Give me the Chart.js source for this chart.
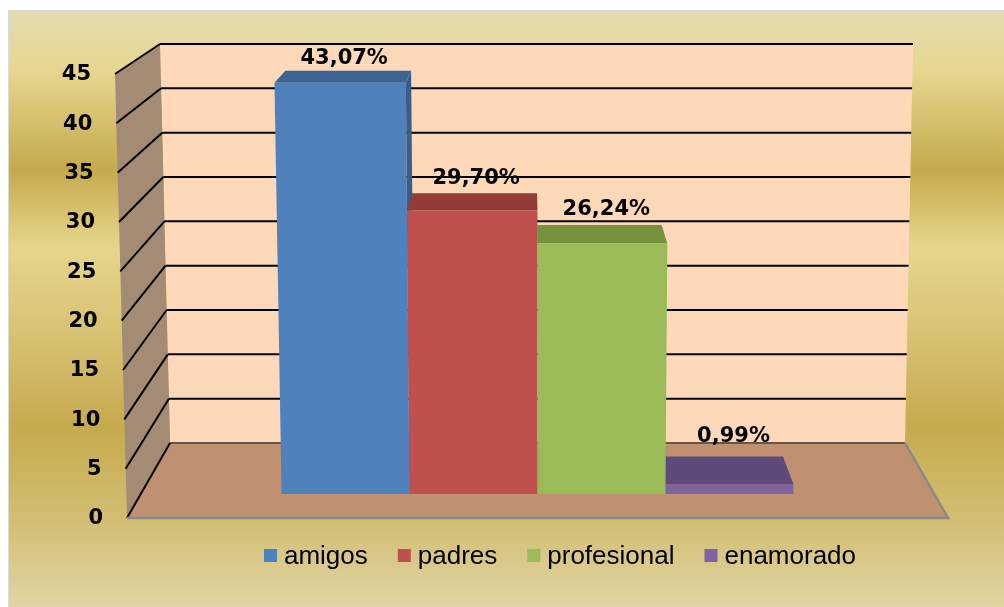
<!DOCTYPE html>
<html>
<head>
<meta charset="utf-8">
<script src="https://cdn.jsdelivr.net/npm/chart.js@4.4.1/dist/chart.umd.min.js"></script>
<style>
  html, body { margin: 0; padding: 0; background: #fff; }
  #wrap { width: 1004px; height: 607px; }
</style>
</head>
<body>
<div id="wrap"><canvas id="chart" width="1004" height="607"></canvas></div>
<script>
// Data
const seriesNames = ['amigos', 'padres', 'profesional', 'enamorado'];
const seriesValues = [43.07, 29.70, 26.24, 0.99];
const valueLabels = ['43,07%', '29,70%', '26,24%', '0,99%'];
const yTicks = [0, 5, 10, 15, 20, 25, 30, 35, 40, 45];

// Colours (front, top, side)
const frontColors = ['#4f81bd', '#c0504d', '#9bbb59', '#8064a2'];
const topColors = ['#3c6391', '#933c3a', '#77923f', '#604a7c'];
const sideColors = ['#3a5e8c', '#8e3a38', '#728c3c', '#5c4776'];

const W = 1004, H = 607;
const FRONT_D = 0.68, BACK_D = 0.30;

// simple perspective box: u = 0..1 across, t = 0..1 up (0..45), d = 0 back wall .. 1 front edge
function project(u, t, d) {
  const xlb = 170 - 10 * t, xrb = 905 + 8 * t, yb = 443 - 399 * t;
  const xlf = 127 - 12 * t, xrf = 948 + 12 * t, yf = 518 - 444 * t;
  const xl = xlb + d * (xlf - xlb);
  const xr = xrb + d * (xrf - xrb);
  return [xl + u * (xr - xl), yb + d * (yf - yb)];
}

function poly(ctx, pts, fill) {
  ctx.beginPath();
  ctx.moveTo(pts[0][0], pts[0][1]);
  for (let i = 1; i < pts.length; i++) ctx.lineTo(pts[i][0], pts[i][1]);
  ctx.closePath();
  ctx.fillStyle = fill;
  ctx.fill();
}

function line(ctx, a, b, color, width) {
  ctx.beginPath();
  ctx.moveTo(a[0], a[1]);
  ctx.lineTo(b[0], b[1]);
  ctx.strokeStyle = color;
  ctx.lineWidth = width;
  ctx.stroke();
}

function tOf(chart, v) {
  const ca = chart.chartArea;
  return (ca.bottom - chart.scales.y.getPixelForValue(v)) / (ca.bottom - ca.top);
}

const threeD = {
  id: 'threeD',
  beforeDraw(chart) {
    const ctx = chart.ctx;
    ctx.save();
    // frame + gold background
    ctx.fillStyle = '#ffffff';
    ctx.fillRect(0, 0, W, H);
    ctx.fillStyle = '#d9d9d9';
    ctx.fillRect(8, 10, W - 8, H - 10);
    const g = ctx.createLinearGradient(0, 11, 0, H);
    g.addColorStop(0, '#e3dcb0');
    g.addColorStop(0.1, '#e6d690');
    g.addColorStop(0.267, '#c5a94d');
    g.addColorStop(0.396, '#e6d68b');
    g.addColorStop(0.55, '#d7c072');
    g.addColorStop(0.70, '#c6aa4e');
    g.addColorStop(0.86, '#d3bf74');
    g.addColorStop(1, '#e0d5a3');
    ctx.fillStyle = g;
    ctx.fillRect(9, 11, W - 9, H - 11);

    // walls and floor
    poly(ctx, [project(0, 0, 0), project(1, 0, 0), project(1, 1, 0), project(0, 1, 0)], '#fed9b9');
    poly(ctx, [project(0, 0, 0), project(0, 1, 0), project(0, 1, 1), project(0, 0, 1)], '#a48b73');
    poly(ctx, [project(0, 0, 0), project(1, 0, 0), project(1, 0, 1), project(0, 0, 1)], '#bf9170');

    // gridlines
    yTicks.forEach(v => {
      const t = tOf(chart, v);
      line(ctx, project(0, t, 0), project(1, t, 0), v === 0 ? '#6a5444' : '#000000', 2);
      line(ctx, project(0, t, 0), project(0, t, 1), '#000000', 2);
    });

    // floor edges
    ctx.beginPath();
    const a = project(0, 0, 1), b = project(1, 0, 1), c = project(1, 0, 0);
    ctx.moveTo(a[0], a[1]); ctx.lineTo(b[0], b[1]); ctx.lineTo(c[0], c[1]);
    ctx.strokeStyle = '#8a8a8a';
    ctx.lineWidth = 2.5;
    ctx.stroke();
    ctx.restore();
  },
  beforeDatasetsDraw(chart) {
    const ctx = chart.ctx;
    const ca = chart.chartArea;
    ctx.save();
    const order = [0, 1, 3, 2];
    order.forEach(i => {
      const el = chart.getDatasetMeta(i).data[0];
      const u0 = (el.x - el.width / 2 - ca.left) / ca.width;
      const u1 = (el.x + el.width / 2 - ca.left) / ca.width;
      const t1 = tOf(chart, chart.data.datasets[i].data[0]);
      const su = u1 <= 0.5001 ? u1 : u0;
      poly(ctx, [project(su, 0, FRONT_D), project(su, t1, FRONT_D), project(su, t1, BACK_D), project(su, 0, BACK_D)], sideColors[i]);
      poly(ctx, [project(u0, t1, FRONT_D), project(u1, t1, FRONT_D), project(u1, t1, BACK_D), project(u0, t1, BACK_D)], topColors[i]);
      poly(ctx, [project(u0, 0, FRONT_D), project(u1, 0, FRONT_D), project(u1, t1, FRONT_D), project(u0, t1, FRONT_D)], frontColors[i]);
    });
    ctx.restore();
    return false;
  },
  afterDraw(chart) {
    const ctx = chart.ctx;
    const ca = chart.chartArea;
    ctx.save();
    ctx.fillStyle = '#000000';

    // value labels
    ctx.font = 'bold 21px "DejaVu Sans"';
    ctx.textAlign = 'center';
    ctx.textBaseline = 'alphabetic';
    chart.data.datasets.forEach((ds, i) => {
      const el = chart.getDatasetMeta(i).data[0];
      const uc = (el.x - ca.left) / ca.width;
      const t1 = tOf(chart, ds.data[0]);
      const x = project(uc, t1, FRONT_D)[0] + 4;
      const y = project(uc, t1, 0.1)[1];
      ctx.fillText(valueLabels[i], x, y);
    });

    // y tick labels on the front edge of the side wall
    ctx.font = 'bold 21px "DejaVu Sans"';
    ctx.textAlign = 'right';
    ctx.textBaseline = 'middle';
    yTicks.forEach(v => {
      const p = project(0, tOf(chart, v), 1);
      ctx.fillText(String(v), p[0] - 24, p[1] + 1);
    });

    // legend
    ctx.font = '26px "Liberation Sans"';
    ctx.textAlign = 'left';
    ctx.textBaseline = 'alphabetic';
    const box = 13, gap = 7, itemGap = 30;
    const widths = chart.data.datasets.map(ds => ctx.measureText(ds.label).width);
    const total = widths.reduce((s, w) => s + box + gap + w, 0) + itemGap * (widths.length - 1);
    let x = 560 - total / 2;
    chart.data.datasets.forEach((ds, i) => {
      ctx.fillStyle = ds.backgroundColor;
      ctx.fillRect(x, 549, box, box);
      ctx.fillStyle = '#000000';
      ctx.fillText(ds.label, x + box + gap, 564);
      x += box + gap + widths[i] + itemGap;
    });
    ctx.restore();
  }
};

new Chart(document.getElementById('chart').getContext('2d'), {
  type: 'bar',
  data: {
    labels: [''],
    datasets: seriesNames.map((name, i) => ({
      label: name,
      data: [seriesValues[i]],
      backgroundColor: frontColors[i],
      categoryPercentage: 0.645,
      barPercentage: 1
    }))
  },
  options: {
    responsive: false,
    animation: false,
    layout: { padding: { left: 140, right: 70, top: 64, bottom: 113 } },
    plugins: {
      legend: { display: false },
      tooltip: { enabled: false }
    },
    scales: {
      x: { display: false },
      y: { display: false, min: 0, max: 45 }
    }
  },
  plugins: [threeD]
});
</script>
</body>
</html>
